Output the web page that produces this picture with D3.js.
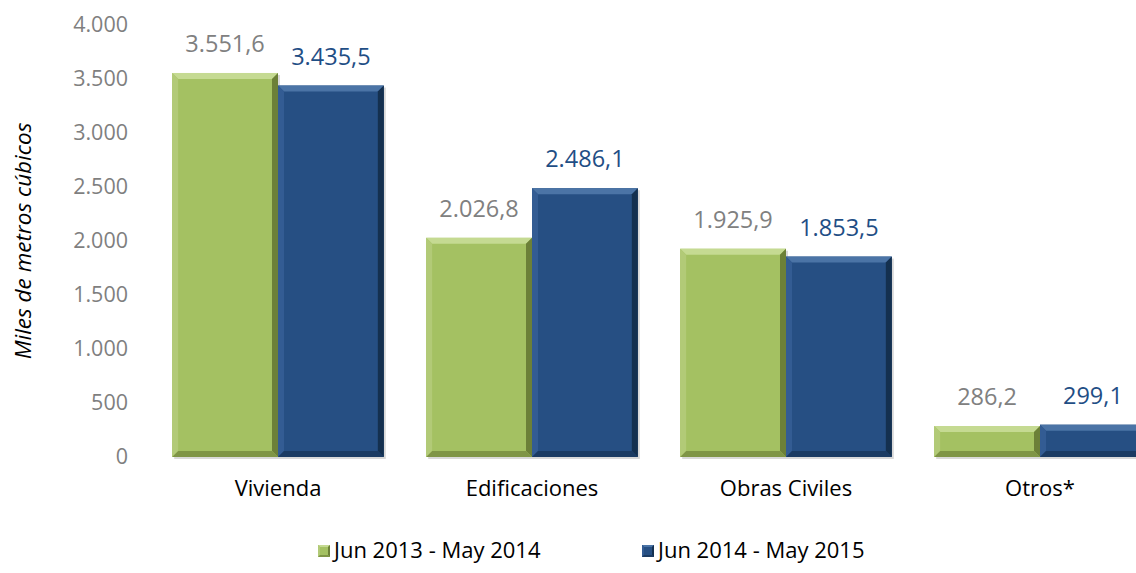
<!DOCTYPE html>
<html>
<head>
<meta charset="utf-8">
<script src="https://cdn.jsdelivr.net/npm/d3@7"></script>
<style>
  body { margin: 0; background: #fff; }
  text { font-family: "Open Sans", sans-serif; }
</style>
</head>
<body>
<svg id="main_svg_container" width="1136" height="573"></svg>
<script>
// data
var categories = ["Vivienda", "Edificaciones", "Obras Civiles", "Otros*"];
var series_names = ["Jun 2013 - May 2014", "Jun 2014 - May 2015"];
var values_2014 = [3551.6, 2026.8, 1925.9, 286.2];
var values_2015 = [3435.5, 2486.1, 1853.5, 299.1];
var y_ticks = [0, 500, 1000, 1500, 2000, 2500, 3000, 3500, 4000];

var bar_colors = ["#a4c162", "#264f83"];
var bevel_colors = [
  {top: "#c5da92", left: "#b2ca77", right: "#6c8038", bottom: "#7f9546"},
  {top: "#4b74a6", left: "#335c93", right: "#14304f", bottom: "#1b3b63"}
];
var label_colors = ["#808080", "#1f4e85"];

var svg = d3.select("#main_svg_container");
var es = d3.formatLocale({decimal: ",", thousands: ".", grouping: [3], currency: ["", ""]});
var fmtTick = es.format(",.0f");
var fmtVal = es.format(",.1f");

var y = d3.scaleLinear().domain([0, 4000]).range([457, 24.5]);
var x = d3.scaleBand().domain(categories).range([151, 1167]);
var x_inner = d3.scaleBand().domain([0, 1]).range([0, x.bandwidth()]).paddingOuter(0.2).paddingInner(0);

var series = [values_2014, values_2015];

// y axis labels
svg.append("g")
    .attr("transform", "translate(128,0)")
    .call(d3.axisLeft(y).tickValues(y_ticks).tickFormat(fmtTick).tickSize(0).tickPadding(0))
    .call(function(g) { g.select(".domain").remove(); })
    .selectAll("text")
    .attr("fill", "#7f7f7f")
    .style("font-size", "21.5px")
    .style("font-family", "'Open Sans', sans-serif");

svg.append("text")
    .attr("transform", "translate(31,241) rotate(-90)")
    .attr("text-anchor", "middle")
    .style("font-size", "22.5px")
    .style("font-style", "italic")
    .attr("fill", "#000")
    .text("Miles de metros cúbicos");

// bars with bevel
var bev = 6;
function drawBar(g, x0, y0, w, h, s, b) {
  var c = bevel_colors[s];
  b = Math.min(b, h / 2);
  g.append("rect").attr("x", x0).attr("y", y0).attr("width", w).attr("height", h).attr("fill", bar_colors[s]);
  var x1 = x0 + w, y1 = y0 + h;
  // top
  g.append("polygon").attr("fill", c.top)
    .attr("points", [[x0, y0], [x1, y0], [x1 - b, y0 + b], [x0 + b, y0 + b]].join(" "));
  // left
  g.append("polygon").attr("fill", c.left)
    .attr("points", [[x0, y0], [x0 + b, y0 + b], [x0 + b, y1 - b], [x0, y1]].join(" "));
  // right
  g.append("polygon").attr("fill", c.right)
    .attr("points", [[x1, y0], [x1, y1], [x1 - b, y1 - b], [x1 - b, y0 + b]].join(" "));
  // bottom
  g.append("polygon").attr("fill", c.bottom)
    .attr("points", [[x0, y1], [x0 + b, y1 - b], [x1 - b, y1 - b], [x1, y1]].join(" "));
}

var bars_g = svg.append("g");
series.forEach(function(vals, s) {
  vals.forEach(function(v, i) {
    var bx = x(categories[i]) + x_inner(s);
    var by = y(v);
    var bw = x_inner.bandwidth();
    // soft shadow
    bars_g.append("rect")
        .attr("x", bx + 2).attr("y", by + 2)
        .attr("width", bw).attr("height", y(0) - by)
        .attr("fill", "#000").attr("opacity", 0.15);
    drawBar(bars_g, bx, by, bw, y(0) - by, s, bev);
    svg.append("text")
        .attr("x", bx + bw / 2)
        .attr("y", by - 21)
        .attr("text-anchor", "middle")
        .attr("fill", label_colors[s])
        .style("font-size", "23.5px")
        .text(fmtVal(v));
  });
});

// category labels
svg.append("g")
    .attr("transform", "translate(0,457)")
    .call(d3.axisBottom(x).tickSize(0).tickPadding(23))
    .call(function(g) { g.select(".domain").remove(); })
    .selectAll("text")
    .attr("fill", "#000")
    .style("font-size", "22px")
    .style("font-family", "'Open Sans', sans-serif");

// legend
var legend_x = [318, 642];
series_names.forEach(function(name, s) {
  var lg = svg.append("g");
  drawBar(lg, legend_x[s], 545, 12, 12, s, 2);
  lg.append("text")
      .attr("x", legend_x[s] + 16)
      .attr("y", 558)
      .attr("fill", "#000")
      .style("font-size", "22px")
      .text(name);
});
</script>
</body>
</html>
